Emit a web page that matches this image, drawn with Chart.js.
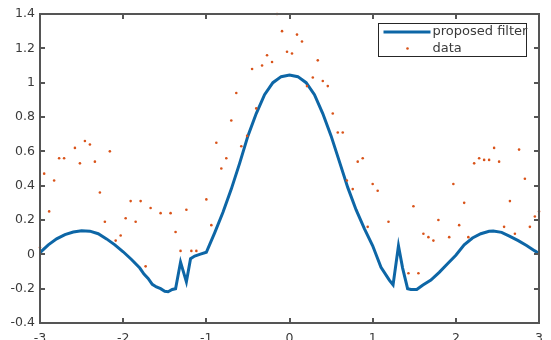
<!DOCTYPE html>
<html>
<head>
<meta charset="utf-8">
<title>proposed filter</title>
<script src="https://cdn.jsdelivr.net/npm/chart.js@4.4.0/dist/chart.umd.min.js"></script>
<style>
    html, body { margin: 0; padding: 0; background: #fff; }
    canvas { display: block; }
</style>
</head>
<body>
<canvas id="plot" width="551" height="340"></canvas>
<script>
// --- filter response (solid line) ---
const filterX = [-3.0, -2.9, -2.8, -2.7, -2.6, -2.5, -2.4, -2.3, -2.2, -2.1, -2.0, -1.9, -1.8, -1.75, -1.7,
    -1.65, -1.6, -1.55, -1.5, -1.46, -1.41, -1.37, -1.31, -1.24, -1.19, -1.14, -1.08, -1.0, -0.9, -0.8,
    -0.7, -0.6, -0.5, -0.4, -0.3, -0.2, -0.1, 0, 0.1, 0.2, 0.3, 0.4, 0.5, 0.6, 0.7, 0.8, 0.9, 1.0,
    1.1, 1.2, 1.245, 1.31, 1.36, 1.42, 1.46, 1.53, 1.6, 1.7, 1.8, 1.9, 2.0, 2.1, 2.2, 2.3, 2.4, 2.45,
    2.55, 2.65, 2.75, 2.85, 2.95, 3.0];
const filterY = [0.01, 0.055, 0.09, 0.115, 0.13, 0.137, 0.135, 0.12, 0.09, 0.055, 0.015, -0.03, -0.08, -0.115, -0.14,
    -0.175, -0.19, -0.2, -0.215, -0.218, -0.205, -0.2, -0.045, -0.16, -0.025, -0.01, 0.0, 0.012, 0.125, 0.245,
    0.38, 0.53, 0.69, 0.82, 0.93, 1.0, 1.035, 1.045, 1.035, 1.0, 0.93, 0.82, 0.69, 0.54, 0.39, 0.26, 0.15, 0.05,
    -0.075, -0.15, -0.178, 0.05, -0.08, -0.2, -0.205, -0.205, -0.18, -0.15, -0.105, -0.055, -0.005, 0.055, 0.095, 0.12, 0.134, 0.136,
    0.128, 0.105, 0.08, 0.052, 0.02, 0.005];

// --- measured samples (dots) ---
const dataX = [-3.0, -2.95, -2.89, -2.83, -2.77, -2.71, -2.58, -2.52, -2.46, -2.4, -2.34, -2.28, -2.22, -2.16, -2.09,
    -2.03, -1.97, -1.91, -1.85, -1.79, -1.73, -1.67, -1.55, -1.43, -1.37, -1.31, -1.24, -1.18, -1.12, -1.0,
    -0.94, -0.88, -0.82, -0.76, -0.7, -0.64, -0.58, -0.51, -0.45, -0.4, -0.33, -0.27, -0.21, -0.15, -0.09,
    -0.03, 0.03, 0.09, 0.15, 0.21, 0.28, 0.34, 0.4, 0.46, 0.52, 0.58, 0.64, 0.69, 0.76, 0.82,
    0.88, 0.94, 1.0, 1.06, 1.19, 1.43, 1.49, 1.55, 1.61, 1.67, 1.73, 1.79, 1.92, 1.97, 2.04,
    2.1, 2.15, 2.22, 2.28, 2.34, 2.4, 2.46, 2.52, 2.58, 2.65, 2.71, 2.76, 2.83, 2.89, 2.95, 3.0];
const dataY = [0.04, 0.47, 0.25, 0.43, 0.56, 0.56, 0.62, 0.53, 0.66, 0.64, 0.54, 0.36, 0.19, 0.6, 0.08,
    0.11, 0.21, 0.31, 0.19, 0.31, -0.07, 0.27, 0.24, 0.24, 0.13, 0.02, 0.26, 0.02, 0.02, 0.32,
    0.17, 0.65, 0.5, 0.56, 0.78, 0.94, 0.63, 0.69, 1.08, 0.85, 1.1, 1.16, 1.12, 1.4, 1.3,
    1.18, 1.17, 1.28, 1.24, 0.98, 1.03, 1.13, 1.01, 0.98, 0.82, 0.71, 0.71, 0.43, 0.38, 0.54,
    0.56, 0.16, 0.41, 0.37, 0.19, -0.11, 0.28, -0.11, 0.12, 0.1, 0.08, 0.2, 0.1, 0.41, 0.17,
    0.3, 0.1, 0.53, 0.56, 0.55, 0.55, 0.62, 0.54, 0.16, 0.31, 0.12, 0.61, 0.44, 0.16, 0.22, 0.25];

// axis limits and tick steps
const xRange = [-3, 3];
const yRange = [-0.4, 1.4];
const xStep = 1;
const yStep = 0.2;

const lineColor = '#0d66a6';
const dotColor = '#d95319';
const textColor = '#3a3a3a';
const frameColor = '#555555';
const legendEdge = '#262626';

Chart.defaults.font.family = '"DejaVu Sans", sans-serif';
Chart.defaults.font.size = 12.5;

const toPoints = (xs, ys) => xs.map((x, i) => ({ x, y: ys[i] }));

// short labels: 1 instead of 1.0, 0 instead of -0.0
const tickText = v => {
    const r = Math.round(v * 10) / 10;
    return String(r === 0 ? 0 : r);
};

// snap to the pixel centre so 1px lines stay sharp
const crisp = v => Math.round(v) + 0.5;

// closed box around the plot with inward tick marks on all four sides
const axesFrame = {
    id: 'axesFrame',
    afterDraw(chart) {
        const ctx = chart.ctx;
        const a = chart.chartArea;
        const x = chart.scales.x;
        const y = chart.scales.y;
        const len = 5;
        // 2px lines sit on whole pixels
        const l = Math.round(a.left), r = Math.round(a.right);
        const t = Math.round(a.top), b = Math.round(a.bottom);

        ctx.save();
        ctx.lineWidth = 2;
        ctx.strokeStyle = frameColor;
        ctx.strokeRect(l, t, r - l, b - t);
        ctx.beginPath();
        x.ticks.forEach(tk => {
            const px = Math.round(x.getPixelForValue(tk.value));
            ctx.moveTo(px, b);
            ctx.lineTo(px, b - len);
            ctx.moveTo(px, t);
            ctx.lineTo(px, t + len);
        });
        y.ticks.forEach(tk => {
            const py = Math.round(y.getPixelForValue(tk.value));
            ctx.moveTo(l, py);
            ctx.lineTo(l + len, py);
            ctx.moveTo(r, py);
            ctx.lineTo(r - len, py);
        });
        ctx.stroke();
        ctx.restore();
    }
};

// boxed legend in the upper right corner
const legendBox = {
    id: 'legendBox',
    afterDraw(chart) {
        const ctx = chart.ctx;
        const a = chart.chartArea;
        const line = chart.data.datasets[0];
        const dots = chart.data.datasets[1];
        const w = 148, h = 33;
        const left = crisp(a.right - 13 - w);
        const top = crisp(a.top + 9);
        const row1 = top + 8.5, row2 = top + 25;

        ctx.save();
        ctx.fillStyle = '#ffffff';
        ctx.fillRect(left, top, w, h);
        ctx.lineWidth = 1;
        ctx.strokeStyle = legendEdge;
        ctx.strokeRect(left, top, w, h);

        ctx.lineWidth = 3;
        ctx.strokeStyle = line.borderColor;
        ctx.beginPath();
        ctx.moveTo(left + 5, row1);
        ctx.lineTo(left + 52, row1);
        ctx.stroke();

        ctx.fillStyle = dots.backgroundColor;
        ctx.beginPath();
        ctx.arc(left + 29, row2, 1.3, 0, Math.PI * 2);
        ctx.fill();

        ctx.fillStyle = textColor;
        ctx.font = '13px "DejaVu Sans", sans-serif';
        ctx.textBaseline = 'middle';
        ctx.textAlign = 'left';
        ctx.fillText(line.label, left + 54, row1);
        ctx.fillText(dots.label, left + 54, row2);
        ctx.restore();
    }
};

new Chart(document.getElementById('plot'), {
    type: 'scatter',
    data: {
        datasets: [
            {
                type: 'line',
                label: 'proposed filter',
                data: toPoints(filterX, filterY),
                borderColor: lineColor,
                borderWidth: 3,
                pointRadius: 0,
                tension: 0,
                fill: false,
                order: 2
            },
            {
                label: 'data',
                data: toPoints(dataX, dataY),
                backgroundColor: dotColor,
                borderWidth: 0,
                pointRadius: 1.3,
                clip: false,
                order: 1
            }
        ]
    },
    options: {
        responsive: false,
        animation: false,
        layout: { padding: { top: 14, right: 5, left: 0, bottom: 0 } },
        plugins: { legend: { display: false }, tooltip: { enabled: false } },
        scales: {
            x: {
                type: 'linear',
                min: xRange[0],
                max: xRange[1],
                ticks: { stepSize: xStep, color: textColor, padding: 8, callback: tickText },
                grid: { display: false, drawTicks: false },
                border: { display: false },
                afterFit: s => { s.height = 17; }
            },
            y: {
                type: 'linear',
                min: yRange[0],
                max: yRange[1],
                ticks: { stepSize: yStep, color: textColor, padding: 5, callback: tickText },
                grid: { display: false, drawTicks: false },
                border: { display: false },
                afterFit: s => { s.width = 40; }
            }
        }
    },
    plugins: [axesFrame, legendBox]
});
</script>
</body>
</html>
